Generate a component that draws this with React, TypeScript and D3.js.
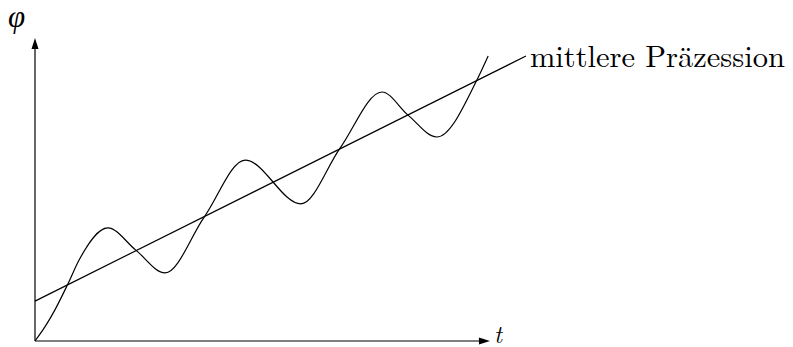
import React from 'react';
import * as d3 from 'd3';

// Precession curve (t, phi)
const wobbleT = [0, 0.22, 0.44, 0.73, 0.98, 1.62, 2.24, 2.89, 3.76, 4.67, 5.91, 6.78, 7.71, 8.29, 8.93, 9.82, 10.07];
const wobblePhi = [0, 0.47, 1.03, 1.9, 2.7, 3.77, 3.03, 2.27, 4.13, 6.03, 4.57, 6.43, 8.3, 7.53, 6.8, 8.7, 9.5];

// Mean precession line
const meanT = [0, 10.91];
const meanPhi = [1.33, 9.5];

const lineLabel = 'mittlere Präzession';

const W = 793;
const H = 347;
const lm = "'Latin Modern Roman'";

const App = () => {
  const x = d3.scaleLinear().domain([0, 10]).range([35, 485]);
  const y = d3.scaleLinear().domain([0, 10]).range([341, 41]);

  const curve = d3.line<number>()
    .x((d, i) => x(wobbleT[i]))
    .y(d => y(d))
    .curve(d3.curveMonotoneX);

  const straight = d3.line<number>()
    .x((d, i) => x(meanT[i]))
    .y(d => y(d));

  const x0 = x(0);
  const y0 = y(0);
  const xEnd = x(10.11);
  const yTop = y(10.1);

  return (
    <svg width={W} height={H} style={{ position: 'absolute', left: 0, top: 0 }}>
      <rect width={W} height={H} fill="#fff" />
      {/* axes */}
      <line x1={x0} y1={y0} x2={xEnd - 9} y2={y0} stroke="#000" strokeWidth={1.2} />
      <path d={`M${xEnd},${y0} L${xEnd - 11},${y0 - 3.5} L${xEnd - 11},${y0 + 3.5} Z`} fill="#000" />
      <line x1={x0} y1={y0} x2={x0} y2={yTop + 9} stroke="#000" strokeWidth={1.2} />
      <path d={`M${x0},${yTop} L${x0 - 3.5},${yTop + 11} L${x0 + 3.5},${yTop + 11} Z`} fill="#000" />

      <path d={straight(meanPhi) || ''} fill="none" stroke="#000" strokeWidth={1.2} />
      <path d={curve(wobblePhi) || ''} fill="none" stroke="#000" strokeWidth={1.2} />

      <text x={8} y={27} style={{ fontFamily: "'Liberation Serif'", fontStyle: 'italic', fontSize: 31 }}>φ</text>
      <text x={xEnd + 4} y={343} style={{ fontFamily: lm, fontStyle: 'italic', fontSize: 24 }}>t</text>
      <text x={x(meanT[1]) + 4} y={67} style={{ fontFamily: lm, fontSize: 30.5 }}>{lineLabel}</text>
    </svg>
  );
};

export default App;
